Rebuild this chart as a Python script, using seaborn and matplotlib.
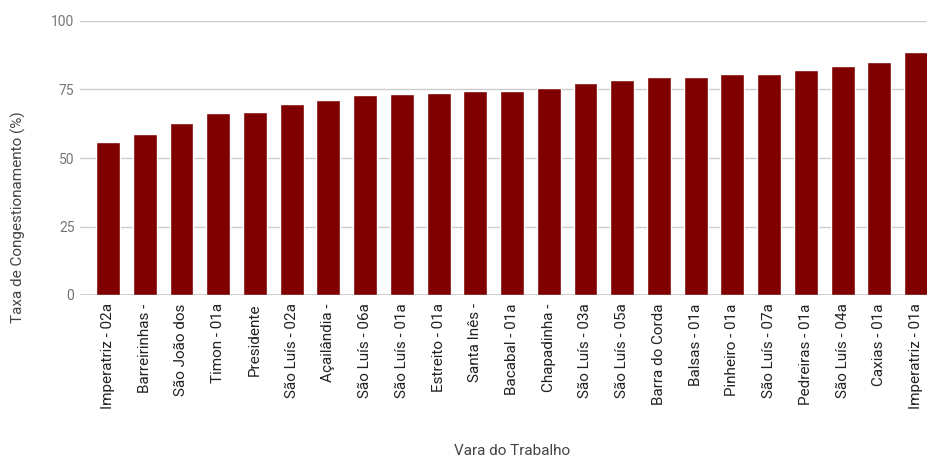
import matplotlib
matplotlib.use("Agg")
import matplotlib.pyplot as plt
import seaborn as sns
import pandas as pd

categories = ["Imperatriz - 02a", "Barreirinhas -", "São João dos", "Timon - 01a",
              "Presidente", "São Luís - 02a", "Açailândia -", "São Luís - 06a",
              "São Luís - 01a", "Estreito - 01a", "Santa Inês -", "Bacabal - 01a",
              "Chapadinha -", "São Luís - 03a", "São Luís - 05a", "Barra do Corda",
              "Balsas - 01a", "Pinheiro - 01a", "São Luís - 07a", "Pedreiras - 01a",
              "São Luís - 04a", "Caxias - 01a", "Imperatriz - 01a"]
values = [55.8, 58.8, 62.8, 66.4, 66.8, 69.7, 71.2, 73.0, 73.5, 73.9, 74.5, 74.5,
          75.7, 77.2, 78.5, 79.4, 79.7, 80.7, 80.7, 82.1, 83.4, 85.2, 88.7]
yticks = [0, 25, 50, 75, 100]

df = pd.DataFrame({"vara": categories, "taxa": values})

sns.set_theme(style="white")
plt.rcParams['font.family'] = ['Roboto', 'DejaVu Sans']

W, H = 927, 458
fig = plt.figure(figsize=(W / 100, H / 100), dpi=100)
step = 36.73
left_px, right_px = 80.0, 108 + 22.5 * step
top_px, bot_px = 21, 295
ax = fig.add_axes([left_px / W, 1 - bot_px / H, (right_px - left_px) / W, (bot_px - top_px) / H])

sns.barplot(data=df, x="vara", y="taxa", color="#800000", width=0.65,
            saturation=1, ax=ax, zorder=3)

ax.set_ylim(0, 100)
ax.set_xlim(-0.5 - (108 - 0.5 * step - left_px) / step, len(categories) - 0.5)
ax.set_yticks(yticks)
ax.set_yticklabels([str(t) for t in yticks], color="#757575", fontsize=10)
ax.yaxis.grid(True, color="#cccccc", linewidth=1, zorder=0)
ax.axhline(0, color="#333333", linewidth=1, zorder=4)
for s in ax.spines.values():
    s.set_visible(False)
ax.tick_params(axis="y", length=0, pad=4)
ax.tick_params(axis="x", length=0, pad=6)
ax.set_xticks(range(len(categories)))
ax.set_xticklabels(categories, rotation=90, color="#222222", fontsize=11,
                   va="top", ha="center")
ax.set_xlabel("")
ax.set_ylabel("")

fig.text(18 / W, 1 - 217 / H, "Taxa de Congestionamento (%)", rotation=90,
         ha="center", va="center", color="#444444", fontsize=11)
fig.text(512 / W, 1 - 451 / H, "Vara do Trabalho", ha="center", va="center",
         color="#444444", fontsize=11)

fig.savefig("out.png", dpi=100)
